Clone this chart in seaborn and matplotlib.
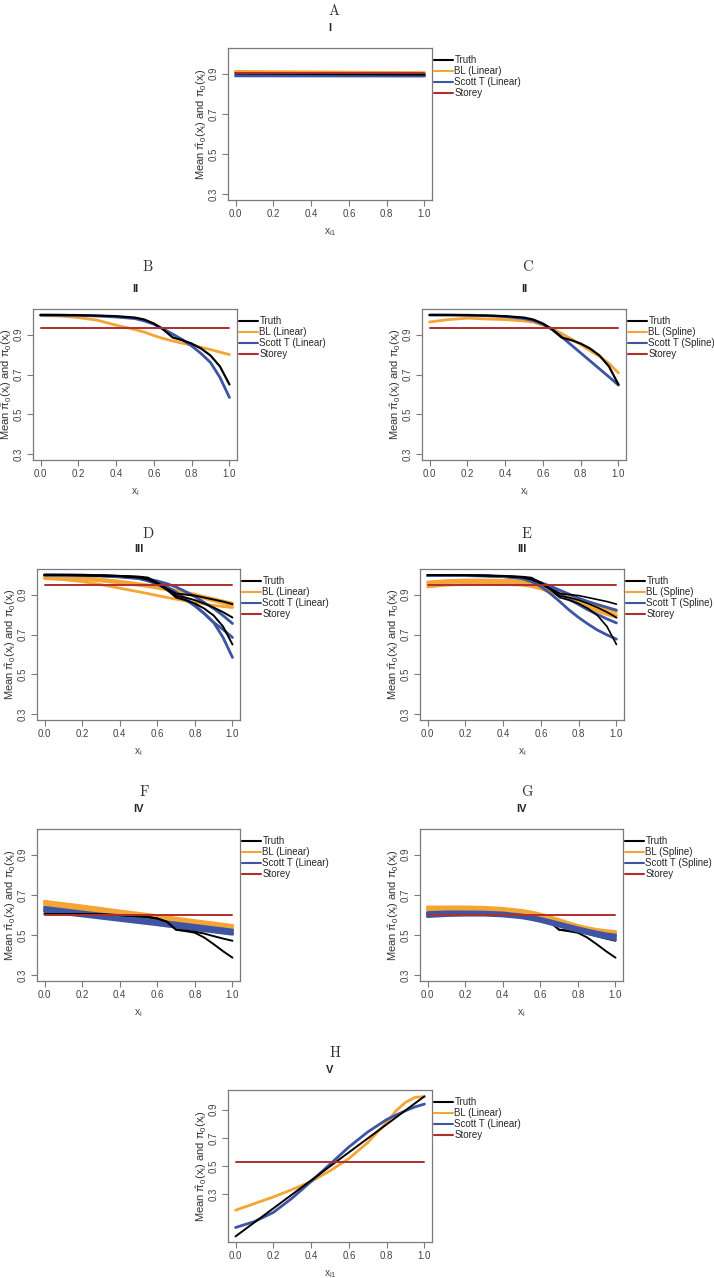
import seaborn as sns
import matplotlib.pyplot as plt
from matplotlib.lines import Line2D

# colours used in the reference
C_TRUTH = "black"
C_BL = "#F4A533"
C_SCOTT = "#3E55A3"
C_STOREY = "#B02E2E"

# x grids the values were read on
xs16 = [0, 0.1, 0.2, 0.3, 0.4, 0.5, 0.55, 0.6, 0.65, 0.7, 0.75, 0.8, 0.85, 0.9, 0.95, 1.0]
xs6 = [0, 0.2, 0.4, 0.6, 0.8, 1.0]
xs_h = [0, 0.1, 0.2, 0.3, 0.4, 0.5, 0.6, 0.7, 0.8, 0.85, 0.9, 0.95, 1.0]
xs2 = [0, 1]

# ---- scenario I (panel A)
truth_1 = [0.902, 0.897]
bl_1 = [0.911, 0.905]
scott_1 = [0.890, 0.889]
storey_1 = 0.904

# ---- scenario II (panels B, C)
truth_2 = [0.998, 0.998, 0.997, 0.995, 0.992, 0.985, 0.975, 0.955, 0.925, 0.885, 0.872, 0.855, 0.83, 0.795, 0.74, 0.65]
bl_lin_2 = [0.995, 0.993, 0.985, 0.972, 0.947, 0.925, 0.912, 0.895, 0.88, 0.868, 0.857, 0.847, 0.836, 0.825, 0.812, 0.80]
scott_lin_2 = [0.998, 0.997, 0.996, 0.993, 0.988, 0.98, 0.968, 0.952, 0.928, 0.902, 0.875, 0.843, 0.805, 0.76, 0.685, 0.585]
bl_spl_2 = [0.963, 0.975, 0.982, 0.978, 0.975, 0.968, 0.962, 0.947, 0.93, 0.905, 0.878, 0.85, 0.82, 0.79, 0.755, 0.708]
scott_spl_2 = [0.998, 0.998, 0.997, 0.995, 0.99, 0.98, 0.97, 0.952, 0.925, 0.888, 0.848, 0.808, 0.768, 0.728, 0.688, 0.647]
storey_2 = 0.933

# ---- scenario III (panels D, E), three settings each
truth_3 = [
    [0.998, 0.998, 0.997, 0.995, 0.993, 0.99, 0.985, 0.96, 0.93, 0.905, 0.9, 0.895, 0.885, 0.875, 0.865, 0.852],
    [0.998, 0.998, 0.997, 0.995, 0.993, 0.988, 0.98, 0.958, 0.925, 0.893, 0.885, 0.872, 0.855, 0.835, 0.812, 0.785],
    [0.998, 0.998, 0.997, 0.995, 0.992, 0.985, 0.975, 0.955, 0.925, 0.885, 0.872, 0.855, 0.83, 0.795, 0.74, 0.65],
]
bl_lin_3 = [
    [0.993, 0.99, 0.985, 0.977, 0.967, 0.955, 0.948, 0.94, 0.932, 0.922, 0.912, 0.902, 0.89, 0.879, 0.868, 0.857],
    [0.985, 0.982, 0.976, 0.968, 0.958, 0.946, 0.94, 0.932, 0.923, 0.913, 0.903, 0.892, 0.88, 0.868, 0.856, 0.843],
    [0.98, 0.975, 0.965, 0.95, 0.932, 0.914, 0.905, 0.895, 0.886, 0.877, 0.868, 0.86, 0.853, 0.846, 0.84, 0.835],
]
scott_lin_3 = [
    [0.998, 0.998, 0.997, 0.995, 0.992, 0.985, 0.978, 0.968, 0.955, 0.938, 0.915, 0.89, 0.86, 0.83, 0.795, 0.755],
    [0.998, 0.998, 0.997, 0.995, 0.99, 0.982, 0.973, 0.96, 0.94, 0.912, 0.88, 0.845, 0.805, 0.76, 0.725, 0.685],
    [0.998, 0.997, 0.996, 0.993, 0.988, 0.98, 0.968, 0.952, 0.928, 0.902, 0.875, 0.843, 0.805, 0.76, 0.685, 0.585],
]
bl_spl_3 = [
    [0.963, 0.97, 0.973, 0.973, 0.972, 0.968, 0.963, 0.952, 0.937, 0.918, 0.898, 0.877, 0.857, 0.84, 0.826, 0.813],
    [0.952, 0.96, 0.963, 0.964, 0.962, 0.958, 0.952, 0.94, 0.925, 0.905, 0.885, 0.865, 0.845, 0.828, 0.812, 0.797],
    [0.938, 0.947, 0.951, 0.952, 0.951, 0.947, 0.94, 0.928, 0.912, 0.893, 0.873, 0.853, 0.833, 0.816, 0.80, 0.785],
]
scott_spl_3 = [
    [0.995, 0.995, 0.995, 0.994, 0.992, 0.985, 0.975, 0.96, 0.942, 0.922, 0.902, 0.882, 0.865, 0.85, 0.836, 0.822],
    [0.995, 0.995, 0.995, 0.994, 0.99, 0.983, 0.972, 0.955, 0.932, 0.905, 0.877, 0.85, 0.823, 0.80, 0.778, 0.758],
    [0.995, 0.995, 0.995, 0.994, 0.99, 0.98, 0.965, 0.94, 0.905, 0.865, 0.822, 0.785, 0.752, 0.722, 0.698, 0.677],
]
storey_3 = 0.95

# ---- scenario IV (panels F, G)
truth_4 = [
    [0.605, 0.605, 0.604, 0.603, 0.60, 0.594, 0.59, 0.583, 0.567, 0.527, 0.523, 0.517, 0.508, 0.495, 0.483, 0.472],
    [0.605, 0.605, 0.604, 0.603, 0.60, 0.594, 0.59, 0.583, 0.567, 0.527, 0.52, 0.512, 0.488, 0.455, 0.42, 0.388],
]
bl_lin_4 = [
    [0.668, 0.645, 0.62, 0.597, 0.572, 0.548],
    [0.66, 0.637, 0.612, 0.588, 0.564, 0.54],
    [0.652, 0.628, 0.604, 0.58, 0.556, 0.532],
]
scott_lin_4 = [
    [0.638, 0.615, 0.593, 0.571, 0.548, 0.525],
    [0.628, 0.605, 0.583, 0.561, 0.538, 0.515],
    [0.618, 0.596, 0.574, 0.552, 0.528, 0.505],
]
bl_spl_4 = [
    [0.64, 0.64, 0.64, 0.638, 0.633, 0.623, 0.615, 0.605, 0.592, 0.577, 0.562, 0.548, 0.537, 0.528, 0.522, 0.518],
    [0.632, 0.632, 0.632, 0.63, 0.625, 0.615, 0.607, 0.597, 0.584, 0.569, 0.554, 0.54, 0.529, 0.52, 0.514, 0.51],
    [0.625, 0.626, 0.626, 0.624, 0.619, 0.609, 0.601, 0.591, 0.578, 0.563, 0.548, 0.534, 0.522, 0.513, 0.507, 0.502],
]
scott_spl_4 = [
    [0.612, 0.615, 0.615, 0.614, 0.61, 0.60, 0.593, 0.583, 0.572, 0.56, 0.548, 0.536, 0.525, 0.515, 0.506, 0.50],
    [0.602, 0.606, 0.607, 0.606, 0.602, 0.593, 0.586, 0.576, 0.565, 0.552, 0.54, 0.528, 0.517, 0.506, 0.497, 0.49],
    [0.593, 0.598, 0.60, 0.60, 0.596, 0.587, 0.579, 0.569, 0.557, 0.545, 0.532, 0.52, 0.508, 0.497, 0.487, 0.478],
]
storey_4 = 0.598

# ---- scenario V (panel H)
truth_5 = [0.0, 0.995]
bl_5 = [0.186, 0.233, 0.28, 0.333, 0.39, 0.466, 0.553, 0.667, 0.81, 0.893, 0.952, 0.988, 0.993]
scott_5 = [0.063, 0.105, 0.17, 0.272, 0.39, 0.513, 0.635, 0.742, 0.83, 0.862, 0.893, 0.92, 0.94]
storey_5 = 0.53

W, H = 714, 1278
sns.set_style("white")
plt.rcParams["font.family"] = ["Liberation Sans", "DejaVu Sans"]
plt.rcParams["mathtext.fontset"] = "custom"
plt.rcParams["mathtext.rm"] = "Liberation Sans"
plt.rcParams["mathtext.it"] = "Liberation Sans"
plt.rcParams["mathtext.bf"] = "Liberation Sans:bold"

fig = plt.figure(figsize=(W / 100, H / 100), dpi=100)
GREY = "#7a7a7a"


def panel(box, letter, letter_xy, numeral, curves, storey, kind, xlab, ylim=(0.3, 1.0)):
    l, t, r, b = box
    ax = fig.add_axes([l / W, 1 - b / H, (r - l) / W, (b - t) / H])
    for x, y, col, lw in curves:
        sns.lineplot(x=x, y=y, color=col, lw=lw, ax=ax, estimator=None, sort=False)
    sns.lineplot(x=[0, 1], y=[storey, storey], color=C_STOREY, lw=1.4, ax=ax)
    pad = 0.04 * (ylim[1] - ylim[0])
    ax.set_xlim(-0.04, 1.04)
    ax.set_ylim(ylim[0] - pad, ylim[1] + pad)
    ax.set_xticks([0, 0.2, 0.4, 0.6, 0.8, 1.0])
    ax.set_xticklabels(["0.0", "0.2", "0.4", "0.6", "0.8", "1.0"])
    ax.set_yticks([0.3, 0.5, 0.7, 0.9])
    ax.set_yticklabels(["0.3", "0.5", "0.7", "0.9"], rotation=90, va="center")
    ax.tick_params(axis="both", length=4, width=0.8, color=GREY, labelsize=7,
                   labelcolor="#444444", pad=2.5, left=True, bottom=True)
    for s in ax.spines.values():
        s.set_visible(True)
        s.set_color(GREY)
        s.set_linewidth(0.9)
    ax.set_xlabel(xlab, fontsize=7.5, color="#444444")
    ax.set_ylabel(r"Mean $\hat{\pi}_0$(x$_i$) and $\pi_0$(x$_i$)", fontsize=8, color="#333333")
    ax.xaxis.set_label_coords(0.5, -26 / (b - t))
    ax.yaxis.set_label_coords(-19 / (r - l), 0.5)
    handles = [Line2D([], [], color=C_TRUTH, lw=1.5),
               Line2D([], [], color=C_BL, lw=1.5),
               Line2D([], [], color=C_SCOTT, lw=1.5),
               Line2D([], [], color=C_STOREY, lw=1.5)]
    labels = ["Truth", "BL (%s)" % kind, "Scott T (%s)" % kind, "Storey"]
    ax.legend(handles, labels, loc="upper left", bbox_to_anchor=(1 + 2 / (r - l), 1 - 7 / (b - t)),
              frameon=False, fontsize=7, handlelength=2.0, handletextpad=0.1,
              labelspacing=0.1, borderaxespad=0, borderpad=0)
    fig.text(letter_xy[0] / W, 1 - letter_xy[1] / H, letter, family="cmr10",
             fontsize=10.5, ha="center", va="center", color="#333333")
    fig.text(((l + r) / 2) / W, 1 - (t - 20) / H, numeral, fontsize=8,
             fontweight="bold", ha="center", va="center")
    return ax


def stack(xs, ys, col, lw):
    return [(xs, y, col, lw) for y in ys]


xlab_i = r"x$_i$"
xlab_i1 = r"x$_{i1}$"

# A
panel((228, 48, 432, 200), "A", (334, 11), "I",
      [(xs2, bl_1, C_BL, 2.2), (xs2, scott_1, C_SCOTT, 2.2), (xs2, truth_1, C_TRUTH, 1.8)],
      storey_1, "Linear", xlab_i1)
# B
panel((33, 309, 237, 460), "B", (148, 267), "II",
      [(xs16, bl_lin_2, C_BL, 2.0), (xs16, scott_lin_2, C_SCOTT, 2.0), (xs16, truth_2, C_TRUTH, 1.6)],
      storey_2, "Linear", xlab_i)
# C
panel((422, 309, 626, 460), "C", (527, 267), "II",
      [(xs16, bl_spl_2, C_BL, 2.0), (xs16, scott_spl_2, C_SCOTT, 2.0), (xs16, truth_2, C_TRUTH, 1.6)],
      storey_2, "Spline", xlab_i)
# D
panel((37, 569, 240, 720), "D", (148, 534), "III",
      stack(xs16, bl_lin_3, C_BL, 2.0) + stack(xs16, scott_lin_3, C_SCOTT, 2.0)
      + stack(xs16, truth_3, C_TRUTH, 1.4),
      storey_3, "Linear", xlab_i)
# E
panel((420, 569, 624, 720), "E", (526, 534), "III",
      stack(xs16, bl_spl_3, C_BL, 2.0) + stack(xs16, scott_spl_3, C_SCOTT, 2.0)
      + stack(xs16, truth_3, C_TRUTH, 1.2),
      storey_3, "Spline", xlab_i)
# F
panel((37, 829, 240, 981), "F", (144, 792), "IV",
      stack(xs6, bl_lin_4, C_BL, 2.2) + stack(xs6, scott_lin_4, C_SCOTT, 2.2)
      + stack(xs16, truth_4, C_TRUTH, 1.4),
      storey_4, "Linear", xlab_i)
# G
panel((420, 829, 623, 981), "G", (527, 792), "IV",
      stack(xs16, truth_4, C_TRUTH, 1.4) + stack(xs16, bl_spl_4, C_BL, 2.2)
      + stack(xs16, scott_spl_4, C_SCOTT, 2.2),
      storey_4, "Spline", xlab_i)
# H
panel((228, 1090, 432, 1242), "H", (335, 1053), "V",
      [(xs_h, bl_5, C_BL, 2.0), (xs_h, scott_5, C_SCOTT, 2.0), (xs2, truth_5, C_TRUTH, 1.4)],
      storey_5, "Linear", xlab_i1, ylim=(0.0, 1.0))

fig.savefig("out.png", dpi=100)
